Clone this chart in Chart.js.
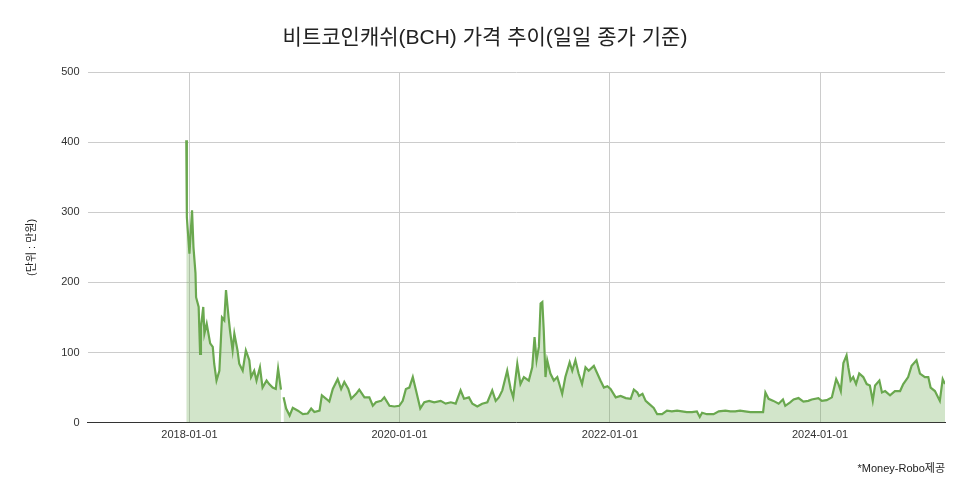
<!DOCTYPE html>
<html>
<head>
<meta charset="utf-8">
<script src="https://cdn.jsdelivr.net/npm/chart.js@4/dist/chart.umd.min.js"></script>
<style>
  html, body { margin: 0; padding: 0; background: #fff; }
  #wrap { width: 970px; height: 500px; }
</style>
</head>
<body>
<div id="wrap"><canvas id="chart"></canvas></div>
<script>
// 비트코인캐쉬(BCH) 종가, 단위: 만원
const dates = [
  "2017-12-21","2017-12-23","2018-01-01","2018-01-10","2018-01-15","2018-01-22","2018-01-24","2018-02-02",
  "2018-02-07","2018-02-10","2018-02-18","2018-02-22","2018-03-02","2018-03-14","2018-03-23","2018-03-28",
  "2018-04-05","2018-04-15","2018-04-24","2018-05-02","2018-05-08","2018-05-17","2018-05-22","2018-05-31",
  "2018-06-06","2018-06-17","2018-06-23","2018-07-05","2018-07-16","2018-07-28","2018-08-03","2018-08-14",
  "2018-08-22","2018-09-03","2018-09-12","2018-09-26","2018-10-05","2018-10-17","2018-10-28","2018-11-05",
  "2018-11-15","2018-11-18","2018-11-24","2018-12-03","2018-12-15","2018-12-26","2019-01-13","2019-01-30",
  "2019-02-16","2019-02-28","2019-03-11","2019-03-29","2019-04-06","2019-04-21","2019-05-02","2019-05-14",
  "2019-05-31","2019-06-12","2019-06-23","2019-07-07","2019-07-17","2019-08-03","2019-08-14","2019-09-01",
  "2019-09-18","2019-09-30","2019-10-11","2019-10-29","2019-11-09","2019-11-27","2019-12-14","2019-12-31",
  "2020-01-12","2020-01-23","2020-02-04","2020-02-16","2020-02-27","2020-03-13","2020-03-27","2020-04-13",
  "2020-04-30","2020-05-23","2020-06-09","2020-06-27","2020-07-14","2020-07-31","2020-08-12","2020-08-29",
  "2020-09-10","2020-09-27","2020-10-14","2020-11-01","2020-11-18","2020-11-30","2020-12-11","2020-12-23",
  "2021-01-09","2021-01-21","2021-01-30","2021-02-13","2021-02-24","2021-03-08","2021-03-25","2021-04-06",
  "2021-04-14","2021-04-21","2021-04-29","2021-05-05","2021-05-11","2021-05-16","2021-05-22","2021-05-28",
  "2021-06-08","2021-06-20","2021-07-02","2021-07-19","2021-07-30","2021-08-14","2021-08-23","2021-09-03",
  "2021-09-14","2021-09-26","2021-10-08","2021-10-19","2021-11-06","2021-11-18","2021-11-29","2021-12-11",
  "2021-12-23","2022-01-03","2022-01-21","2022-02-07","2022-02-25","2022-03-14","2022-03-25","2022-04-06",
  "2022-04-12","2022-04-24","2022-05-05","2022-05-16","2022-06-02","2022-06-14","2022-07-01","2022-07-18",
  "2022-08-04","2022-08-22","2022-09-08","2022-09-25","2022-10-13","2022-10-30","2022-11-09","2022-11-17",
  "2022-12-04","2022-12-27","2023-01-14","2023-02-06","2023-02-23","2023-03-12","2023-03-29","2023-04-15",
  "2023-05-04","2023-05-27","2023-06-17","2023-06-25","2023-07-06","2023-07-23","2023-08-10","2023-08-25",
  "2023-09-02","2023-09-19","2023-10-01","2023-10-18","2023-11-04","2023-11-21","2023-12-03","2023-12-26",
  "2024-01-07","2024-01-24","2024-02-11","2024-02-26","2024-03-05","2024-03-13","2024-03-22","2024-04-02",
  "2024-04-08","2024-04-16","2024-04-25","2024-05-05","2024-05-16","2024-05-30","2024-06-11","2024-06-22",
  "2024-07-02","2024-07-10","2024-07-25","2024-08-03","2024-08-14","2024-08-31","2024-09-17","2024-10-05",
  "2024-10-16","2024-11-02","2024-11-14","2024-12-01","2024-12-13","2024-12-30","2025-01-11","2025-01-19",
  "2025-02-03","2025-02-20","2025-03-02","2025-03-10"
];
const prices = [
  403, 293, 241, 303, 250, 213, 179, 165,
  98, 136, 165, 127, 141, 113, 108, 84,
  60, 74, 150, 146, 189, 150, 131, 103,
  127, 103, 84, 74, 103, 89, 65, 74,
  60, 79, 50, 60, 55, 50, 48, 77,
  47, null, 36, 20, 10, 21, 17, 12,
  13, 20, 15, 17, 39, 34, 30, 48,
  62, 48, 58, 48, 34, 41, 47, 36,
  36, 24, 29, 31, 36, 24, 23, 24,
  31, 48, 50, 65, 46, 20, 29, 31,
  29, 31, 27, 29, 27, 46, 34, 36,
  27, 23, 27, 29, 46, 31, 36, 46,
  74, 48, 36, 84, 55, 65, 60, 79,
  122, 89, 108, 170, 172, 131, 65, 89,
  70, 60, 65, 41, 65, 86, 74, 89,
  70, 55, 79, 74, 81, 70, 60, 50,
  52, 48, 36, 38, 35, 34, 47, 43,
  38, 41, 31, 27, 21, 12, 12, 17,
  16, 17, 16, 15, 15, 16, 8, 14,
  12, 12, 16, 17, 16, 16, 17, 16,
  15, 15, 15, 43, 34, 31, 27, 33,
  24, 29, 33, 35, 30, 31, 33, 35,
  31, 32, 36, 62, 55, 45, 85, 96,
  79, 60, 65, 55, 70, 65, 55, 53,
  31, 53, 60, 43, 45, 39, 45, 45,
  55, 65, 81, 89, 70, 65, 65, 50,
  45, 31, 62, 55
];
const xTickDates = ["2018-01-01", "2020-01-01", "2022-01-01", "2024-01-01"];
const yTicks = [0, 100, 200, 300, 400, 500];
const xMinDate = "2017-01-12";

const toMs = s => { const p = s.split("-").map(Number); return Date.UTC(p[0], p[1] - 1, p[2]); };
const fmt = ms => new Date(ms).toISOString().slice(0, 10);
const points = dates.map((d, i) => ({ x: toMs(d), y: prices[i] }));

const font = '"Liberation Sans", Arial, "Noto Sans CJK KR", sans-serif';

const ctx = document.getElementById("chart").getContext("2d");
new Chart(ctx, {
  type: "line",
  data: {
    datasets: [{
      data: points,
      borderColor: "#6aa84f",
      backgroundColor: "rgba(106,168,79,0.3)",
      borderWidth: 2.2,
      pointRadius: 0,
      fill: "origin",
      spanGaps: false,
      tension: 0
    }]
  },
  options: {
    responsive: true,
    maintainAspectRatio: false,
    animation: false,
    layout: { padding: { left: 25, right: 25, top: 8, bottom: 24 } },
    plugins: {
      legend: { display: false },
      tooltip: { enabled: false },
      title: {
        display: true,
        text: "비트코인캐쉬(BCH) 가격 추이(일일 종가 기준)",
        color: "#222",
        font: { family: font, size: 21, weight: "normal" },
        padding: { top: 18, bottom: 21 }
      },
      subtitle: {
        display: true,
        text: "*Money-Robo제공",
        position: "bottom",
        align: "end",
        color: "#222",
        font: { family: font, size: 11 },
        padding: { top: 15, bottom: 0 }
      }
    },
    scales: {
      x: {
        type: "linear",
        min: toMs(xMinDate),
        max: toMs(dates[dates.length - 1]),
        afterBuildTicks: axis => { axis.ticks = xTickDates.map(d => ({ value: toMs(d) })); },
        ticks: {
          callback: v => fmt(v),
          color: "#333",
          font: { family: font, size: 11 },
          maxRotation: 0,
          padding: 6
        },
        grid: { color: "#cccccc", drawTicks: false },
        border: { display: true, color: "#333", width: 1 }
      },
      y: {
        min: 0,
        max: 500,
        afterBuildTicks: axis => { axis.ticks = yTicks.map(v => ({ value: v })); },
        ticks: {
          color: "#333",
          font: { family: font, size: 11 },
          padding: 8
        },
        grid: { color: "#cccccc", drawTicks: false },
        border: { display: false },
        title: {
          display: true,
          text: "(단위 : 만원)",
          color: "#222",
          font: { family: font, size: 11 },
          padding: { top: 0, bottom: 15 }
        }
      }
    }
  }
});
</script>
</body>
</html>
